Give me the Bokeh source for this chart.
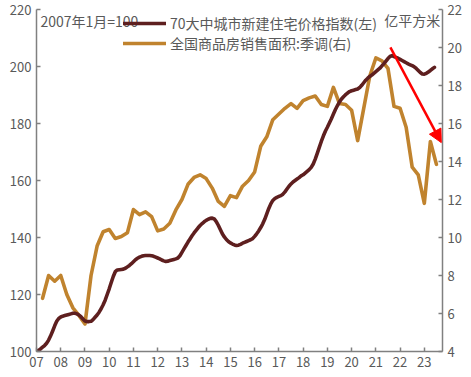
from bokeh.plotting import figure
from bokeh.models import (Range1d, LinearAxis, FixedTicker, Legend, LegendItem,
                          Label, Arrow, NormalHead)
from bokeh.embed import file_html
from bokeh.resources import INLINE

# ---------------- data ----------------
# 70-city new home price index (2007-01 = 100), monthly from 2007-01
price_index = [
    100.0, 100.4, 100.9, 101.5, 102.1, 102.9, 104.0, 105.5, 107.2, 109.0, 110.6, 111.6,  # 2007
    112.1, 112.4, 112.6, 112.8, 113.0, 113.2, 113.4, 113.4, 113.2, 112.8, 112.2, 111.4,  # 2008
    110.7, 110.5, 110.5, 110.6, 111.2, 112.0, 112.8, 113.8, 115.0, 116.4, 118.0, 120.0,  # 2009
    122.0, 124.2, 126.3, 128.0, 128.6, 128.7, 128.8, 128.9, 129.2, 129.7, 130.2, 130.8,  # 2010
    131.5, 132.2, 132.7, 133.1, 133.4, 133.6, 133.7, 133.7, 133.7, 133.6, 133.4, 133.1,  # 2011
    132.8, 132.5, 132.1, 131.8, 131.6, 131.7, 131.9, 132.1, 132.3, 132.5, 132.8, 133.6,  # 2012
    134.8, 136.0, 137.2, 138.4, 139.5, 140.6, 141.6, 142.5, 143.4, 144.2, 144.9, 145.5,  # 2013
    146.0, 146.4, 146.7, 146.8, 146.5, 145.6, 144.3, 142.8, 141.3, 140.2, 139.3, 138.6,  # 2014
    138.1, 137.7, 137.4, 137.2, 137.3, 137.6, 138.0, 138.3, 138.6, 138.9, 139.2, 139.6,  # 2015
    140.4, 141.3, 142.3, 143.5, 144.8, 146.4, 148.3, 150.2, 151.8, 153.0, 153.7, 154.1,  # 2016
    154.4, 154.7, 155.2, 156.0, 157.0, 158.0, 158.8, 159.5, 160.0, 160.5, 161.0, 161.6,  # 2017
    162.0, 162.6, 163.2, 163.8, 164.6, 165.8, 167.5, 169.5, 171.6, 173.7, 175.6, 177.3,  # 2018
    178.7, 180.2, 181.7, 183.3, 184.9, 186.3, 187.6, 188.6, 189.4, 190.1, 190.7, 191.2,  # 2019
    191.5, 191.7, 191.9, 192.1, 192.6, 193.4, 194.3, 195.2, 195.9, 196.5, 197.0, 197.6,  # 2020
    198.2, 198.8, 199.4, 200.2, 201.0, 201.9, 202.8, 203.5, 203.8, 203.5, 203.2, 202.9,  # 2021
    202.5, 202.1, 201.7, 201.3, 200.9, 200.6, 200.3, 199.9, 199.3, 198.6, 197.9, 197.4,  # 2022
    197.3, 197.6, 198.1, 198.6, 199.2, 199.7,                                            # 2023
]
price_start_year = 2007.0

# National commodity housing sales area, seasonally adjusted (100 million m2), quarterly, from 2007Q1
sales_area = [
    6.8, 8.0, 7.7, 8.0,        # 2007
    7.0, 6.3, 5.9, 5.45,       # 2008
    8.0, 9.55, 10.3, 10.42,    # 2009
    9.95, 10.05, 10.25, 11.47, # 2010
    11.2, 11.35, 11.1, 10.35,  # 2011
    10.45, 10.75, 11.45, 12.0, # 2012
    12.8, 13.16, 13.3, 13.1,   # 2013
    12.6, 11.9, 11.64, 12.2,   # 2014
    12.1, 12.7, 13.0, 13.45,   # 2015
    14.8, 15.3, 16.2, 16.5,    # 2016
    16.8, 17.05, 16.8, 17.2,   # 2017
    17.35, 17.45, 17.0, 16.9,  # 2018
    17.9, 17.05, 17.0, 16.7,   # 2019
    15.1, 16.8, 18.5, 19.45,   # 2020
    19.3, 18.9, 16.9, 16.8,    # 2021
    15.8, 13.7, 13.3, 11.8,    # 2022
    15.05, 13.85,              # 2023
]
sales_start_year = 2007.25  # end of 2007Q1

year_ticks = list(range(2007, 2024))
year_labels = ["07", "08", "09", "10", "11", "12", "13", "14", "15",
               "16", "17", "18", "19", "20", "21", "22", "23"]
left_ticks = [100, 120, 140, 160, 180, 200, 220]
right_ticks = [4, 6, 8, 10, 12, 14, 16, 18, 20, 22]

price_label = "70大中城市新建住宅价格指数(左)"
sales_label = "全国商品房销售面积:季调(右)"
base_note = "2007年1月=100"
unit_note = "亿平方米"

# annotation arrow (data coords: x year, y left axis)
arrow_start = (2021.6, 206.7)
arrow_end = (2023.7, 173.3)

# ---------------- styles ----------------
FONT = "Noto Sans CJK SC"
TXT = "#595959"
AX = "#808080"
C_PRICE = "#5E1F1F"
C_SALES = "#C0832E"

price_x = [price_start_year + i / 12 for i in range(len(price_index))]
sales_x = [sales_start_year + 0.25 * i for i in range(len(sales_area))]

p = figure(width=471, height=377, output_backend="svg", toolbar_location=None,
           x_range=Range1d(2007.0, 2023.75), y_range=Range1d(100, 220),
           min_border_left=36, min_border_right=29, min_border_top=9,
           min_border_bottom=26)
p.extra_y_ranges = {"r": Range1d(4, 22)}
p.outline_line_color = None
p.xgrid.visible = False
p.ygrid.visible = False
p.background_fill_color = "white"
p.border_fill_color = "white"

r_sales = p.line(sales_x, sales_area, y_range_name="r", line_color=C_SALES,
                 line_width=3.6, line_join="round", line_cap="round")
r_price = p.line(price_x, price_index, line_color=C_PRICE, line_width=3.6,
                 line_join="round", line_cap="round")


def style_axis(ax):
    ax.axis_line_color = AX
    ax.axis_line_width = 1.5
    ax.major_tick_line_color = AX
    ax.major_tick_line_width = 1.5
    ax.major_tick_in = 4
    ax.major_tick_out = 0
    ax.minor_tick_line_color = None
    ax.major_label_text_color = TXT
    ax.major_label_text_font = FONT
    ax.major_label_text_font_size = "13px"


xa = p.xaxis[0]
xa.ticker = FixedTicker(ticks=year_ticks)
xa.major_label_overrides = {t: l for t, l in zip(year_ticks, year_labels)}
style_axis(xa)

ya = p.yaxis[0]
ya.ticker = FixedTicker(ticks=left_ticks)
style_axis(ya)

ra = LinearAxis(y_range_name="r", ticker=FixedTicker(ticks=right_ticks))
style_axis(ra)
p.add_layout(ra, "right")

legend = Legend(items=[LegendItem(label=price_label, renderers=[r_price]),
                       LegendItem(label=sales_label, renderers=[r_sales])],
                location=(87, 298), orientation="vertical",
                glyph_width=43, glyph_height=20, label_standoff=4, spacing=0,
                padding=0, margin=0, border_line_alpha=0,
                background_fill_alpha=0, label_text_font=FONT,
                label_text_font_size="14px", label_text_color=TXT,
                label_height=20)
p.add_layout(legend)

p.add_layout(Label(x=2007.16, y=216.0, text=base_note, text_font=FONT,
                   text_font_size="14px", text_color=TXT,
                   text_baseline="middle"))
p.add_layout(Label(x=2021.35, y=216.4, text=unit_note, text_font=FONT,
                   text_font_size="14px", text_color=TXT,
                   text_baseline="middle"))

p.add_layout(Arrow(end=NormalHead(size=13, fill_color="red", line_color="red"),
                   x_start=arrow_start[0], y_start=arrow_start[1],
                   x_end=arrow_end[0], y_end=arrow_end[1],
                   line_color="red", line_width=2.5))

open("out.html", "w").write(file_html(p, INLINE))
